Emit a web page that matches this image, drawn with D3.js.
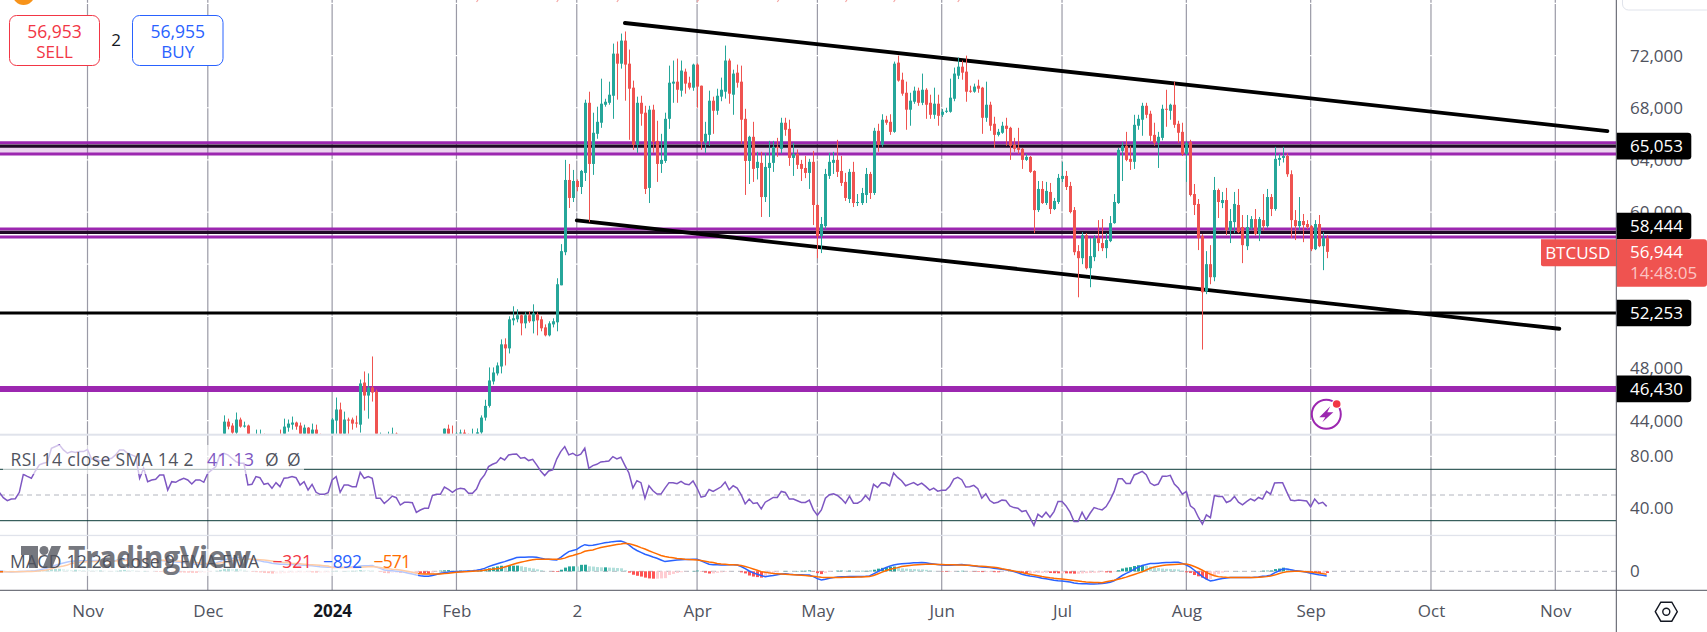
<!DOCTYPE html>
<html>
<head>
<meta charset="utf-8">
<title>BTCUSD</title>
<script src="https://cdn.jsdelivr.net/npm/d3@7"></script>
<style>
  html, body { margin: 0; padding: 0; background: #fff; overflow: hidden; }
  svg { display: block; }
  text { font-family: "Open Sans", "Noto Sans", sans-serif; }
  .axis text { fill: #50535e; font-size: 17px; }
  .axis path, .axis line { display: none; }
</style>
</head>
<body>
<svg id="chart" width="1707" height="632"></svg>
<script>
// daily candles, 5 Dec 2023 to 5 Sep 2024, one line per month
const candleStart = '2023-12-05';
const opens = [
  41980,43920,43620,43080,44080,43540,43620,41240,41450,42700,42920,41900,42250,41350,42650,42250,43460,43690,43850,43620,42850,43460,42600,43310,42600,42100,42150,
  42280,44000,44850,42800,44080,44080,43850,43690,46920,45920,46540,46230,42700,42800,41750,42500,43000,42650,41250,41650,41650,41550,39550,39880,40100,39950,41800,42120,42020,43380,42950,
  42580,43000,43080,42950,42600,42700,43100,44230,45130,47000,47620,48150,49850,49540,51690,51770,52080,51460,52080,51620,52150,51770,51150,50540,51380,51540,54380,56920,62460,
  61080,62380,61920,63000,68380,63690,66000,66850,68230,68380,68920,72150,71380,73150,71380,69540,65150,68380,67620,61850,67850,65460,63690,63920,67150,69850,70000,69310,70770,69920,69540,
  71310,69690,65310,65920,68540,67770,68850,69230,71620,69000,70690,70000,67150,63920,65770,63380,63770,61150,63380,63770,65000,64850,66850,66380,64150,64460,63690,63380,63000,63850,
  60540,58150,58920,62770,63770,64000,63150,62310,61000,63080,60690,60690,61310,62920,61460,66230,65150,67080,66920,66150,71460,70150,69150,67850,68460,69310,68380,69380,68380,67460,68310,
  67460,67690,67690,68690,70460,71150,70770,69310,69230,69690,69540,67230,68230,66770,65920,66080,66620,66460,65150,64920,64850,64000,64230,63150,60150,61770,60690,61540,60230,60770,
  62540,62770,62000,60150,57000,56460,58230,55690,56540,58000,57620,57230,57770,59150,60690,64690,65080,64080,63850,66620,67080,68150,67540,65920,65310,65690,67920,67770,68230,66770,66150,
  64460,65380,61380,60620,58150,53920,56000,55000,61690,60690,60920,58620,59230,60540,58850,57380,58770,59460,58310,59380,58920,61150,60230,64000,64150,64300,62900,59380,58920,59310,59080,
  58920,57150,59080,57380,58000
];
const highs = [
  44400,44150,43800,44620,44230,43920,43690,42100,43310,43310,43000,42700,42400,42750,43310,44150,44080,44310,43920,43850,43690,43500,43770,43690,43000,42600,42900,
  44200,45770,45380,44690,44230,44230,44380,47150,47770,47620,48920,46380,43080,42920,43150,43460,43080,42800,42100,41850,41700,41650,40100,40550,40300,42200,42200,42800,43400,43690,43620,
  43100,43310,43310,43000,43380,43400,44400,45600,48080,48080,48460,50230,50310,52000,52770,52540,52150,52310,52380,52920,52310,52000,51380,51620,51850,54920,57540,64000,63690,
  63230,62500,63230,68620,69230,67620,68080,70230,68690,70000,72920,73080,73690,73850,72460,70080,68850,68920,68150,68150,68230,67000,66000,67620,71230,71620,71770,71620,71000,70380,71380,
  71400,69700,66920,69310,68850,69460,70310,72770,71770,70920,71310,71230,67920,65850,66920,64620,64620,64540,65460,65460,65690,67230,67230,67080,65310,64800,64000,64310,64080,64690,
  60600,59620,63310,64540,64620,65540,64310,63000,63310,63850,61380,61850,63380,63080,66460,66770,67500,67380,67500,71540,72000,70690,70000,69150,69620,69540,70620,69500,69000,69540,69000,
  67900,68000,70230,71080,71850,71620,72000,69690,69850,70150,69600,70000,68460,67310,66380,66920,67230,66540,65690,66460,64920,64460,64300,63200,62380,62380,62310,62230,61080,62920,
  63850,63150,62310,60380,57460,58460,58380,58000,58230,59380,59460,58380,59690,61380,64920,65380,66150,65080,67460,67460,68380,68380,67770,66850,66150,68230,69380,68310,70000,67000,66850,
  65460,65540,62150,61000,58300,57000,57460,62690,61800,61540,61850,60230,61540,61770,59770,59770,59690,60230,59620,61380,61770,61380,65000,64460,65000,64500,63200,60150,61150,59850,59380,
  59000,59380,59770,58460,58230
];
const lows = [
  41900,43330,42850,42950,43460,43460,40700,40650,40800,41500,41600,41700,41250,40500,41800,42200,43150,43310,43300,42600,42700,41700,42300,42300,41300,41500,41950,
  42200,42700,40500,42600,42700,43310,43460,43080,44770,44150,45460,41500,42500,41700,41700,42100,42200,40700,40300,41500,41500,39500,38500,39500,39550,39800,41400,41600,41800,42700,42300,
  41900,42600,42850,42300,42300,42500,42800,44000,45000,46770,47460,47620,48230,49150,51310,51540,50540,51080,51500,50690,50540,50850,50460,50460,51150,50850,54380,56690,60310,
  60770,61590,61380,62380,59230,62850,65620,66460,68080,68230,67150,68620,71000,68540,65540,64770,64540,66620,61380,60690,64540,62310,63000,63770,66380,68380,68380,68850,69080,69400,69300,
  68000,64770,64540,65080,66000,67460,68500,68700,68310,67460,69540,65230,61310,62150,62310,62500,59620,60770,59620,63080,64230,64500,65850,63540,62770,63300,62380,62600,61770,59000,
  56460,56850,58690,62540,62920,62690,62000,60850,60690,60380,60460,60540,60690,61000,61310,64620,65000,66690,65920,66080,70000,68920,66310,66620,68300,68150,68200,67150,67150,67150,66620,
  67300,67600,67620,68500,70200,70150,68460,69150,69150,69150,66000,66920,66230,64920,65800,66000,65080,64000,64620,64460,63310,63920,63000,58380,60000,60620,60540,59850,60150,60620,
  62300,61690,59900,56690,53460,56000,55600,54230,56230,57000,57000,56460,57690,59100,60620,62380,63900,63230,63310,66310,65850,67200,65460,65080,63380,65500,66540,67080,66460,65310,64300,
  62310,61200,59770,57080,49450,53700,54460,54690,59540,60300,58230,57620,58380,58380,56080,57080,58600,58200,57770,58540,58800,59690,60100,63540,63800,62700,58000,57850,58620,57690,58700,
  57000,57080,57300,55540,56460
];
const closes = [
  43920,43540,43080,44080,43540,43620,41240,41450,42700,42920,41900,42250,41350,42650,42250,43540,43770,43850,43540,42850,43460,42600,43310,42600,42100,42150,42280,
  44080,44850,42700,44080,44000,43770,43770,46850,45920,46540,46150,42700,42800,41750,42500,43000,42650,41250,41650,41650,41550,39550,39880,40100,39950,41800,42120,42020,43380,42950,42580,
  43000,43080,42950,42600,42700,43100,44230,45130,47080,47690,48230,49850,49540,51770,51850,52080,51460,52080,51620,52230,51690,51080,50540,51460,51620,54460,57000,62460,61080,
  62380,61920,63150,68380,63690,66080,66920,68310,68460,69000,72150,71380,73150,71310,69460,65150,68380,67540,61770,67850,65380,63690,64000,67150,69920,70000,69380,70850,69850,69540,71310,
  69620,65380,66000,68540,67770,68920,69380,71620,69080,70620,69920,67080,63920,65770,63310,63850,61150,63460,63770,65000,64920,66850,66310,64150,64460,63620,63310,63000,63850,60540,
  58150,59080,62920,63850,64000,63080,62230,61080,63080,60690,60770,61460,62920,61460,66230,65150,67080,66850,66150,71380,70080,69080,67850,68540,69310,68380,69380,68230,67460,68310,67380,
  67690,67770,68770,70620,71150,70690,69230,69230,69620,69460,67230,68230,66620,65920,66150,66620,66380,65080,64850,64770,64000,64230,63080,60150,61770,60690,61620,60230,60850,62620,
  62770,61920,60000,56920,56460,58230,55690,56620,58000,57620,57230,57850,59150,60770,64770,65080,64000,63850,66690,67150,68150,67460,65850,65310,65770,67920,67850,68230,66690,66080,64460,
  65310,61310,60540,58000,53850,56000,55000,61690,60770,60920,58620,59310,60620,58460,57460,58850,59460,58310,59460,58920,61150,60230,64080,64150,64300,62900,59380,58920,59310,59000,58850,
  57150,59080,57380,58000,56944
];

// indicator panes run from further left, 10 Oct 2023 to 5 Sep 2024
const indicatorStart = '2023-10-10';
const rsiValues = [
  52.1,47.9,45.6,46.9,47.1,52.1,66.1,64.5,63,68.7,73.4,74.7,75.5,86.4,87.7,89,85.1,82.5,83.8,83,83.8,83.8,
  85.3,78,78,76.5,77.3,77.8,78.6,81.2,85.1,85.1,82.5,81.2,79.9,63,70.8,60.4,61.7,62.2,65.6,65.6,53.9,60.4,59.9,61.7,63,61.7,58.6,61.7,61.7,59.9,
  66.9,69.5,72.1,81.2,82.5,81.2,78.6,76,74.7,74.7,57.8,58.3,64.3,63.5,58.3,59.1,55.2,59.6,56.5,63,63.5,64.3,63.5,57.8,60.4,53.9,58.3,52.1,50.5,50.5,51.8,
  61.7,64.3,52.1,57.8,57.8,56.5,56.5,67.7,63,64.3,63,47.4,47.4,43.5,46.1,49.2,47.9,42.2,44.3,44.3,44,36.5,38.3,39.6,39.6,49.5,50.5,50.5,56.2,54.4,52.1,
  54.4,55.2,54.7,51.3,51.3,54.7,61.7,65.6,72.1,73.9,75.2,79.1,77.3,81.2,81.7,81.9,78.6,79.1,76.8,77.8,73.4,68.7,65.1,68.7,69.5,78,83.8,87.7,81.2,
  82.5,80.4,81.7,86.4,70.8,72.9,73.9,75.7,76,76.5,79.9,78.1,79.4,73.1,67.1,55.4,61.1,59.6,47.5,57.2,53.3,50.7,50.7,55.4,59.6,59.6,58.8,60.6,58.5,58,60.9,
  55.4,48.3,49.1,54.3,52.8,54.6,56.4,60.1,54.1,57.2,55.4,50.2,43.1,46.8,43.4,43.9,39.2,44.4,46.2,48.1,48.1,52.8,52,46.8,46.8,45.5,44.2,44.2,46,38.4,
  34.2,38.4,47.5,50.2,50.9,49.6,47,43.6,49.1,43.6,43.6,45.5,49.6,46.2,58.3,55.9,59.6,59.3,57.2,67.1,63.7,61.1,57.2,58.5,59.6,57.7,59.3,56.7,53.8,55.4,53,
  53.6,53.6,56.7,62.4,63.7,61.9,56.2,56.4,57.5,54.9,47.5,50.9,45.7,43.6,44.4,46,45.7,41.5,40.2,39.7,37.1,37.9,32.4,26.4,35,32.7,36.6,32.7,37.1,44.9,
  44.9,41.5,36.6,29.3,29.3,36.6,30.6,35.8,40.2,39.2,38.4,41,46.2,52.8,62.7,62.7,59,59,65.6,66.9,68.4,65.8,59.3,57.5,58.5,64.5,64.5,65.3,58.5,55.4,50.7,
  52.8,41.5,39.2,32.7,27.4,34.5,32.4,49.6,48.9,48.9,44.2,45.5,48.9,44.4,42.3,44.9,47,45.5,48.1,46.8,52.8,50.7,59.3,59.6,59.6,52.6,46.1,45.6,46.1,45.8,45.3,
  40.9,46.9,43.2,44.3,41.13
];
const macdValues = [
  -30,-60,-90,-110,-100,-60,-30,20,60,120,260,420,640,900,1150,1380,1560,1750,1900,1950,1980,1990,
  2000,2020,2040,2060,2040,2000,1990,2030,2180,2300,2320,2330,2250,2200,2250,2220,2180,2080,2030,2000,1880,1840,1780,1700,1620,1540,1440,1360,1320,1300,
  1350,1450,1600,1850,2150,2350,2450,2550,2600,2620,2400,2200,2100,1990,1830,1700,1520,1450,1350,1320,1300,1280,1250,1200,1150,1100,1050,950,880,830,790,
  780,800,740,750,790,820,840,1010,1040,1060,1080,800,560,250,130,100,30,-60,-200,-350,-500,-700,-830,-920,-950,-800,-600,-380,-260,-150,-100,
  -60,-20,20,60,110,190,340,560,890,1150,1400,1620,1830,2100,2350,2600,2650,2680,2700,2720,2650,2500,2340,2280,2200,2150,2650,3200,3730,
  3950,4150,4680,5050,4900,4950,5100,5250,5400,5500,5630,5700,5760,5500,5000,4400,3950,3600,3230,3000,2700,2470,2150,1840,1950,2050,2150,2200,2250,2250,2270,
  2280,2000,1650,1330,1250,1220,1200,1200,1220,1230,1200,900,500,60,-300,-550,-800,-1010,-900,-800,-650,-500,-480,-560,-620,-640,-660,-700,-720,-1000,
  -1400,-1650,-1500,-1300,-1200,-1080,-1050,-1050,-1000,-1000,-1000,-980,-950,-890,-500,-100,300,700,950,1200,1350,1450,1500,1550,1600,1620,1650,1600,1500,1400,1300,
  1200,1150,1150,1200,1250,1300,1200,1100,1000,900,800,750,700,600,500,400,300,200,-60,-300,-550,-750,-900,-1010,-1150,-1300,-1400,-1550,-1700,-1780,
  -1840,-1950,-2050,-2200,-2300,-2350,-2380,-2400,-2400,-2380,-2300,-2200,-2090,-1800,-1300,-800,-400,-60,400,800,1100,1300,1460,1500,1550,1600,1650,1680,1700,1710,1500,
  1200,800,200,-380,-1000,-1500,-1840,-1700,-1500,-1350,-1250,-1200,-1180,-1170,-1200,-1200,-1200,-1150,-1100,-950,-890,-750,-300,50,440,430,300,150,60,-50,-200,
  -380,-520,-650,-760,-892
];
const signalValues = [
  -80,-80,-80,-80,-80,-70,-60,-50,-30,0,80,160,300,500,700,850,1000,1200,1500,1600,1700,1750,
  1800,1850,1880,1900,1920,1930,1930,1940,1980,2030,2080,2130,2150,2160,2180,2190,2190,2170,2150,2120,2070,2020,1970,1910,1850,1790,1720,1650,1590,1530,
  1490,1480,1500,1580,1700,1850,2000,2100,2200,2300,2320,2300,2260,2200,2130,2050,1950,1860,1760,1680,1600,1530,1480,1420,1360,1300,1260,1200,1130,1060,1000,
  720,700,700,700,710,720,730,760,800,850,890,800,700,570,500,400,330,250,100,-50,-200,-380,-450,-500,-520,-530,-520,-500,-430,-370,-280,
  -190,-150,-100,-60,0,60,120,220,320,400,480,570,800,1050,1280,1520,1700,1880,2050,2180,2280,2300,2300,2290,2280,2280,2350,2500,2800,
  3000,3230,3450,3800,3950,4050,4300,4500,4650,4800,4950,5080,5190,5320,5250,5050,4800,4500,4240,3900,3600,3300,3000,2790,2650,2550,2450,2380,2300,2250,2200,
  2150,2050,1900,1750,1650,1500,1390,1320,1260,1230,1200,1100,900,700,450,200,-60,-200,-300,-400,-450,-500,-550,-600,-650,-700,-750,-800,-890,-950,
  -1050,-1120,-1170,-1200,-1200,-1200,-1180,-1150,-1130,-1110,-1090,-1070,-1040,-1010,-800,-500,-200,100,350,550,700,890,1000,1100,1180,1250,1300,1320,1330,1330,1300,
  1280,1260,1240,1220,1210,1200,1170,1130,1070,1000,950,890,830,760,680,480,350,200,60,-100,-250,-400,-550,-700,-850,-1000,-1120,-1240,-1340,-1400,
  -1460,-1560,-1650,-1750,-1850,-1950,-2030,-2080,-2120,-2140,-2150,-2000,-1850,-1700,-1500,-1330,-1100,-850,-600,-350,-100,250,570,800,950,1080,1180,1250,1310,1360,1380,
  1390,1200,900,570,200,-200,-550,-850,-1010,-1100,-1150,-1180,-1190,-1200,-1200,-1200,-1200,-1170,-1130,-1070,-1010,-900,-720,-470,-250,-100,-20,0,-10,-50,-90,
  -130,-220,-320,-440,-571
];
const macdHist = [
  50,20,-10,-30,-20,10,30,70,90,120,180,260,340,400,450,470,440,320,250,300,250,230,
  200,170,160,160,120,70,60,90,200,270,240,200,100,40,70,30,-10,-90,-120,-120,-190,-180,-190,-210,-230,-250,-280,-290,-270,-230,
  -140,-30,100,270,450,500,450,450,400,320,80,-100,-160,-210,-300,-350,-430,-410,-410,-360,-300,-250,-230,-220,-210,-200,-210,-250,-250,-230,-210,
  60,100,40,50,80,100,110,250,240,210,190,0,-140,-320,-370,-300,-300,-310,-300,-300,-300,-320,-380,-420,-430,-270,-80,120,170,220,180,
  130,130,120,120,110,130,220,340,570,750,920,1050,1030,1050,1070,1080,950,800,650,540,370,200,40,-10,-80,-130,300,700,930,
  950,920,1230,1250,950,900,800,750,750,700,680,620,570,180,-250,-650,-850,-1000,-1200,-1350,-1400,-1400,-1350,-1300,-700,-500,-300,-180,-50,0,70,
  130,-50,-250,-420,-400,-280,-190,-120,-40,0,0,-200,-400,-800,-1000,-1100,-1200,-1100,-600,-400,-200,0,70,40,30,60,90,100,170,-50,
  -350,-530,-330,-100,0,120,130,100,130,110,90,90,90,120,300,500,650,800,850,900,850,560,500,450,420,370,350,280,170,70,0,
  -80,-110,-90,-20,40,100,30,-30,-70,-100,-150,-140,-130,-160,-180,-80,-50,0,-120,-200,-300,-350,-350,-310,-300,-300,-280,-310,-360,-380,
  -380,-390,-400,-450,-450,-400,-350,-320,-280,-240,-150,-200,-240,-100,200,530,700,790,1000,1150,1200,1050,890,700,600,520,470,430,390,350,120,
  -190,-300,-700,-950,-1200,-1500,-1500,-850,-490,-250,-100,-20,10,30,0,0,0,20,30,120,120,150,420,520,690,530,320,150,70,0,-110,
  -250,-300,-330,-320,-321
];

// drawn levels, trend lines and axis values
const purpleLevels = [65315, 64448, 58707, 58093];
const darkLevels = [65053, 58444];
const levelTags = [65053, 58444, 52253, 46430];
const bandRange = [65053, 64448];
const blackLevel = 52253;
const heavyPurpleLevel = 46430;
const trendUpper = [['2024-03-14', 74500], ['2024-11-14', 66213]];
const trendLower = [['2024-03-02', 59360], ['2024-11-02', 51047]];
const priceTicks = [72000, 68000, 64000, 60000, 48000, 44000];
const priceGrid = [76000, 72000, 68000, 64000, 60000, 56000, 52000, 48000, 44000];
const rsiTicks = [80, 40];
const timeTicks = ['2023-11-01', '2023-12-01', '2024-01-01', '2024-02-01', '2024-03-02', '2024-04-01',
  '2024-05-01', '2024-06-01', '2024-07-01', '2024-08-01', '2024-09-01', '2024-10-01', '2024-11-01'];
const timeLabels = ['Nov', 'Dec', '2024', 'Feb', '2', 'Apr', 'May', 'Jun', 'Jul', 'Aug', 'Sep', 'Oct', 'Nov'];
const topMarks = ['2024-02-06', '2024-02-26', '2024-03-12', '2024-04-01', '2024-04-21', '2024-05-08', '2024-05-20', '2024-06-05'];

const GREEN = '#26a69a', RED = '#ef5350', PURPLE = '#9c27b0', AXIS = '#50535e';
const date = s => new Date(s + 'T00:00:00Z');

const candleDates = d3.utcDay.range(date(candleStart), date('2024-09-06'));
const indicatorDates = d3.utcDay.range(date(indicatorStart), date('2024-09-06'));

// quick check that the typed arrays still line up with the dates
[opens, highs, lows, closes].forEach(a => { if (a.length !== candleDates.length) throw new Error('candle length ' + a.length + ' vs ' + candleDates.length); });
[rsiValues, macdValues, signalValues, macdHist].forEach(a => { if (a.length !== indicatorDates.length) throw new Error('indicator length ' + a.length + ' vs ' + indicatorDates.length); });

// scales - one px row per pane
const x = d3.scaleUtc().domain([date('2023-11-01'), date('2024-11-01')]).range([87.5, 1555.3]);
const y = d3.scaleLinear().domain([72000, 44000]).range([55.6, 420.6]);
const yRsi = d3.scaleLinear().domain([70, 30]).range([469.3, 520.7]);
const yMacd = d3.scaleLinear().domain([0, 1000]).range([571.3, 566.03]);

const RIGHT = 1616.3, PANE1 = 433.7, PANE2 = 535.3, BOTTOM = 590.3;

const svg = d3.select('#chart');
svg.append('defs').append('clipPath').attr('id', 'mainClip')
  .append('rect').attr('x', 0).attr('y', 0).attr('width', RIGHT).attr('height', PANE1);

// vertical grid, then the white horizontal grid over it
svg.append('g').selectAll('line').data(timeTicks).join('line')
  .attr('x1', d => x(date(d))).attr('x2', d => x(date(d)))
  .attr('y1', 0).attr('y2', BOTTOM)
  .attr('stroke', '#9a9aa6').attr('stroke-width', 1.2);
const hGrid = svg.append('g').attr('stroke', '#fff').attr('stroke-width', 1.2);
hGrid.selectAll('line.p').data(priceGrid).join('line').attr('class', 'p')
  .attr('x1', 0).attr('x2', RIGHT).attr('y1', d => y(d)).attr('y2', d => y(d));
hGrid.selectAll('line.r').data(rsiTicks).join('line').attr('class', 'r')
  .attr('x1', 0).attr('x2', RIGHT).attr('y1', d => yRsi(d)).attr('y2', d => yRsi(d));

// top of the news markers that are cut off by the window
svg.append('g').selectAll('line').data(topMarks).join('line')
  .attr('x1', d => x(date(d))).attr('x2', d => x(date(d)) + 1.5)
  .attr('y1', 2).attr('y2', 0).attr('stroke', '#f5a5a3').attr('stroke-width', 1.2);

// price pane
const main = svg.append('g').attr('clip-path', 'url(#mainClip)');
main.append('rect')
  .attr('x', 0).attr('width', RIGHT)
  .attr('y', y(bandRange[0])).attr('height', y(bandRange[1]) - y(bandRange[0]))
  .attr('fill', PURPLE).attr('opacity', 0.2);
const hline = (g, v, color, w) => g.append('line')
  .attr('x1', 0).attr('x2', RIGHT).attr('y1', y(v)).attr('y2', y(v))
  .attr('stroke', color).attr('stroke-width', w);
purpleLevels.forEach(v => hline(main, v, PURPLE, 3));
darkLevels.forEach(v => hline(main, v, '#200a26', 3.2));
hline(main, blackLevel, '#000', 3);
hline(main, heavyPurpleLevel, PURPLE, 6);

// trend lines
[trendUpper, trendLower].forEach(t => {
  main.append('line')
    .attr('x1', x(date(t[0][0]))).attr('y1', y(t[0][1]))
    .attr('x2', x(date(t[1][0]))).attr('y2', y(t[1][1]))
    .attr('stroke', '#000').attr('stroke-width', 3.8).attr('stroke-linecap', 'round');
});

// candles
const candleColor = i => closes[i] >= opens[i] ? GREEN : RED;
main.append('g').selectAll('line').data(candleDates).join('line')
  .attr('x1', d => Math.round(x(d)) + 0.5).attr('x2', d => Math.round(x(d)) + 0.5)
  .attr('y1', (d, i) => y(highs[i])).attr('y2', (d, i) => y(lows[i]))
  .attr('stroke', (d, i) => candleColor(i)).attr('stroke-width', 1);
main.append('g').selectAll('rect').data(candleDates).join('rect')
  .attr('x', d => Math.round(x(d)) - 1).attr('width', 3)
  .attr('y', (d, i) => Math.min(y(opens[i]), y(closes[i])))
  .attr('height', (d, i) => Math.max(1, Math.abs(y(opens[i]) - y(closes[i]))))
  .attr('fill', (d, i) => candleColor(i));

// pane separators
svg.append('rect').attr('x', 0).attr('y', PANE1).attr('width', 1707).attr('height', 2).attr('fill', '#e0e3eb');
svg.append('rect').attr('x', 0).attr('y', PANE2 - 0.5).attr('width', 1707).attr('height', 1.3).attr('fill', '#e0e3eb');

// RSI pane
const rsiBand = svg.append('g');
[70, 30].forEach(v => rsiBand.append('line')
  .attr('x1', 0).attr('x2', RIGHT).attr('y1', yRsi(v)).attr('y2', yRsi(v))
  .attr('stroke', '#0b3a38').attr('stroke-width', 1));
rsiBand.append('line')
  .attr('x1', 0).attr('x2', RIGHT).attr('y1', yRsi(50)).attr('y2', yRsi(50))
  .attr('stroke', '#b2b5be').attr('stroke-dasharray', '5 4');
svg.append('path').datum(rsiValues)
  .attr('d', d3.line().x((d, i) => x(indicatorDates[i])).y(d => yRsi(d)))
  .attr('fill', 'none').attr('stroke', '#7e57c2').attr('stroke-width', 1.5);

// MACD pane
svg.append('line')
  .attr('x1', 0).attr('x2', RIGHT).attr('y1', yMacd(0)).attr('y2', yMacd(0))
  .attr('stroke', '#b2b5be').attr('stroke-dasharray', '5 4');
const histColor = i => {
  const v = macdHist[i], prev = i ? macdHist[i - 1] : 0;
  if (v >= 0) return v >= prev ? GREEN : '#b2dfdb';
  return v < prev ? '#ff5252' : '#ffcdd2';
};
svg.append('g').selectAll('rect').data(indicatorDates).join('rect')
  .attr('x', d => Math.round(x(d)) - 1).attr('width', 3)
  .attr('y', (d, i) => Math.min(yMacd(0), yMacd(macdHist[i])))
  .attr('height', (d, i) => Math.abs(yMacd(macdHist[i]) - yMacd(0)))
  .attr('fill', (d, i) => histColor(i));
[[macdValues, '#2962ff'], [signalValues, '#ff6d00']].forEach(([vals, color]) => {
  svg.append('path').datum(vals)
    .attr('d', d3.line().x((d, i) => x(indicatorDates[i])).y(d => yMacd(d)))
    .attr('fill', 'none').attr('stroke', color).attr('stroke-width', 1.5);
});

// legends with their soft white background
svg.append('rect').attr('x', 3).attr('y', 445).attr('width', 301).attr('height', 29).attr('fill', '#fff').attr('opacity', 0.65);
svg.append('rect').attr('x', 3).attr('y', 549).attr('width', 415).attr('height', 27).attr('fill', '#fff').attr('opacity', 0.65);

// TradingView watermark
const mark = svg.append('g').attr('fill', '#76787f');
mark.append('path').attr('d', 'M21 546h17v22h-9v-13h-8z');
mark.append('circle').attr('cx', 44).attr('cy', 550.5).attr('r', 4.5);
mark.append('path').attr('d', 'M51.500 546h9.500l-9 22h-9.500z');
mark.append('text').attr('x', 68).attr('y', 568).attr('font-size', 30).attr('font-weight', 700)
  .attr('textLength', 183).text('TradingView');

// legend texts are stretched to the width they take in the original font
const legend = (txt, px, py, color, width) => svg.append('text')
  .attr('x', px).attr('y', py).attr('fill', color).attr('font-size', 17.5)
  .attr('textLength', width).text(txt);
legend('RSI 14 close SMA 14 2', 10.5, 466, '#50535e', 183);
legend('41.13', 207, 466, '#7e57c2', 47);
legend('Ø', 265, 466, '#50535e', 12);
legend('Ø', 287, 466, '#50535e', 12);
legend('MACD 12 26 close 9 EMA EMA', 10, 568, '#50535e', 249);
legend('−321', 272.5, 568, '#f23645', 39.5);
legend('−892', 323, 568, '#2962ff', 39);
legend('−571', 373.5, 568, '#ff6d00', 37.5);

// right and bottom frames
svg.append('rect').attr('x', RIGHT).attr('y', 0).attr('width', 1707 - RIGHT).attr('height', 632).attr('fill', '#fff');
svg.append('rect').attr('x', 0).attr('y', BOTTOM).attr('width', 1707).attr('height', 632 - BOTTOM).attr('fill', '#fff');
svg.append('line').attr('x1', RIGHT).attr('x2', RIGHT).attr('y1', 0).attr('y2', 632).attr('stroke', AXIS);
svg.append('line').attr('x1', 0).attr('x2', 1707).attr('y1', BOTTOM).attr('y2', BOTTOM).attr('stroke', AXIS);
svg.append('rect').attr('x', 1622.5).attr('y', -10).attr('width', 90).attr('height', 20).attr('rx', 6)
  .attr('fill', '#fff').attr('stroke', '#e0e3eb');
svg.append('circle').attr('cx', 23.6).attr('cy', -6).attr('r', 11).attr('fill', '#f7931a');

// price axis labels
const AX_X = 1630;
const rightAxis = (scale, vals, fmt) => g => g.call(d3.axisRight(scale).tickValues(vals).tickFormat(fmt).tickSize(0).tickPadding(0));
svg.append('g').attr('class', 'axis').attr('transform', `translate(${AX_X},0)`)
  .call(rightAxis(y, priceTicks, d3.format(',')));
svg.append('g').attr('class', 'axis').attr('transform', `translate(${AX_X},0)`)
  .call(rightAxis(yRsi, rsiTicks, d3.format('.2f')));
svg.append('g').attr('class', 'axis').attr('transform', `translate(${AX_X},0)`)
  .call(rightAxis(yMacd, [0], d3.format('d')));

// black tags for the drawn levels, 58,444 sits a little higher to clear the last price tag
const tags = svg.append('g').selectAll('g').data(levelTags).join('g')
  .attr('transform', d => `translate(${RIGHT + 0.5},${y(d) - (d === 58444 ? 6.3 : 0)})`);
tags.append('path').attr('d', 'M0 -13.3H71Q74.5 -13.3 74.5 -10V10Q74.5 13.3 71 13.3H0Z').attr('fill', '#000');
tags.append('text').attr('x', AX_X - RIGHT - 0.5).attr('dy', '0.36em').attr('fill', '#fff').attr('font-size', 17)
  .text(d => d3.format(',')(d));

// last price tag
const lastY = y(closes[closes.length - 1]);
svg.append('path').attr('d', `M1541 ${lastY - 12.5}Q1541 ${lastY - 12.5} 1543 ${lastY - 12.5}H1616V${lastY + 14.5}H1543Q1541 ${lastY + 14.5} 1541 ${lastY + 12.5}Z`).attr('fill', RED);
svg.append('path').attr('d', `M1616.8 ${lastY - 12.5}H1704Q1707 ${lastY - 12.5} 1707 ${lastY - 9.5}V${lastY + 32}Q1707 ${lastY + 35} 1704 ${lastY + 35}H1616.8Z`).attr('fill', RED);
svg.append('text').attr('x', 1577.7).attr('y', lastY + 0.6).attr('dy', '0.36em').attr('text-anchor', 'middle')
  .attr('fill', '#fff').attr('font-size', 17).text('BTCUSD');
svg.append('text').attr('x', AX_X).attr('y', lastY).attr('dy', '0.36em').attr('fill', '#fff').attr('font-size', 17)
  .text(d3.format(',')(closes[closes.length - 1]));
svg.append('text').attr('x', AX_X).attr('y', lastY + 21).attr('dy', '0.36em').attr('fill', '#fbc4c3').attr('font-size', 17)
  .text('14:48:05');

// time axis
svg.append('g').attr('class', 'axis').attr('transform', 'translate(0,605)')
  .call(d3.axisBottom(x).tickValues(timeTicks.map(date)).tickFormat((d, i) => timeLabels[i]).tickSize(0).tickPadding(0))
  .selectAll('text')
  .attr('font-weight', (d, i) => timeLabels[i] === '2024' ? 700 : 400)
  .style('fill', (d, i) => timeLabels[i] === '2024' ? '#131722' : AXIS);

// settings hexagon
const hex = svg.append('g').attr('transform', 'translate(1666.3,611.7)').attr('fill', 'none').attr('stroke', '#131722').attr('stroke-width', 1.4);
hex.append('path').attr('d', 'M-11 0L-5.5 -9.5H5.5L11 0L5.5 9.5H-5.5Z');
hex.append('circle').attr('r', 3.5);

// lightning icon
const bolt = svg.append('g').attr('transform', 'translate(1326.3,414.3)');
bolt.append('circle').attr('r', 14.5).attr('fill', '#fff').attr('stroke', PURPLE).attr('stroke-width', 2);
bolt.append('path').attr('d', 'M4 -8L-7 3H-1L-4 8L7 -2H1Z').attr('fill', PURPLE);
bolt.append('circle').attr('cx', 10.4).attr('cy', -10.3).attr('r', 5).attr('fill', '#fff');
bolt.append('circle').attr('cx', 10.4).attr('cy', -10.3).attr('r', 3.8).attr('fill', '#f23645');

// sell / buy buttons
const button = (bx, bw, color, price, label) => {
  const g = svg.append('g');
  g.append('rect').attr('x', bx).attr('y', 15.5).attr('width', bw).attr('height', 50).attr('rx', 7)
    .attr('fill', '#fff').attr('stroke', color);
  g.append('text').attr('x', bx + bw / 2).attr('y', 38).attr('text-anchor', 'middle').attr('fill', color).attr('font-size', 17.5).attr('font-weight', 500).text(price);
  g.append('text').attr('x', bx + bw / 2).attr('y', 58).attr('text-anchor', 'middle').attr('fill', color).attr('font-size', 17).text(label);
};
button(9.5, 90, '#f23645', '56,953', 'SELL');
button(132.5, 90.5, '#2962ff', '56,955', 'BUY');
svg.append('text').attr('x', 116).attr('y', 46).attr('text-anchor', 'middle').attr('fill', '#131722').attr('font-size', 17).text('2');
</script>
</body>
</html>
